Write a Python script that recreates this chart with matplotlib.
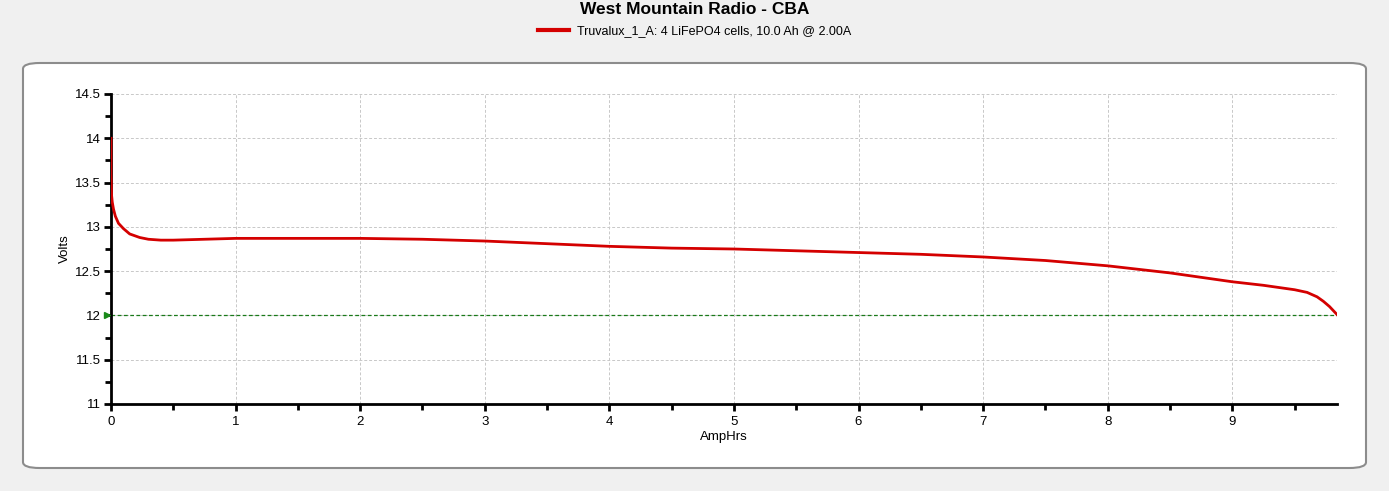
import matplotlib
matplotlib.use("Agg")
import matplotlib.pyplot as plt
from matplotlib.lines import Line2D
from matplotlib.patches import FancyBboxPatch
from matplotlib.ticker import MultipleLocator

plt.rcParams["font.family"] = ["Liberation Sans", "DejaVu Sans"]

# Discharge curve
amp_hrs = [0.0, 0.0, 0.005, 0.01, 0.02, 0.035, 0.06, 0.1, 0.15, 0.23, 0.3, 0.4,
           0.5, 0.75, 1.0, 1.5, 2.0, 2.5, 3.0, 3.5, 4.0, 4.5, 5.0, 5.5, 6.0,
           6.5, 7.0, 7.5, 8.0, 8.5, 9.0, 9.25, 9.5, 9.6, 9.68, 9.73, 9.78, 9.84]
volts = [14.0, 13.6, 13.35, 13.28, 13.2, 13.12, 13.04, 12.98, 12.92, 12.88, 12.86, 12.85,
         12.85, 12.86, 12.87, 12.87, 12.87, 12.86, 12.84, 12.81, 12.78, 12.76, 12.75, 12.73, 12.71,
         12.69, 12.66, 12.62, 12.56, 12.48, 12.38, 12.34, 12.29, 12.26, 12.21, 12.16, 12.1, 12.01]
cutoff = 12.0

series_label = "Truvalux_1_A: 4 LiFePO4 cells, 10.0 Ah @ 2.00A"

fig = plt.figure(figsize=(13.89, 4.91), dpi=100)
fig.patch.set_facecolor("#f0f0f0")

# rounded white panel behind the plot
panel = FancyBboxPatch((23 / 1389, 1 - 468 / 491), (1366 - 23) / 1389, (468 - 63) / 491,
                       boxstyle="round,pad=0,rounding_size=0.012",
                       transform=fig.transFigure, facecolor="white",
                       edgecolor="#8c8c8c", linewidth=1.5, zorder=-5)
fig.patches.append(panel)

ax = fig.add_axes([111 / 1389, 1 - 404 / 491, (1337 - 111) / 1389, (404 - 94) / 491])
ax.set_zorder(2)
ax.set_facecolor("white")

ax.plot(amp_hrs, volts, color="#d40000", linewidth=2, zorder=3, solid_joinstyle="round")
ax.axhline(cutoff, color="#1a7a1a", linestyle=(0, (3, 2)), linewidth=0.9, zorder=2)
ax.plot([-0.03], [cutoff], marker=">", color="#1a8a1a", markersize=5, clip_on=False, zorder=4)

ax.set_xlim(0, 9.84)
ax.set_ylim(11, 14.5)
ax.xaxis.set_major_locator(MultipleLocator(1))
ax.xaxis.set_minor_locator(MultipleLocator(0.5))
ax.yaxis.set_major_locator(MultipleLocator(0.5))
ax.yaxis.set_minor_locator(MultipleLocator(0.25))
ax.yaxis.set_major_formatter(plt.FuncFormatter(lambda v, p: f"{v:g}"))

ax.grid(True, which="major", color="#c8c8c8", linestyle=(0, (3, 2)), linewidth=0.7)
for side in ("top", "right"):
    ax.spines[side].set_visible(False)
for side in ("left", "bottom"):
    ax.spines[side].set_linewidth(2)
ax.tick_params(which="both", width=2, color="black", labelsize=9.5)
ax.tick_params(which="major", length=5)
ax.tick_params(which="minor", length=4)
ax.tick_params(axis="y", pad=2)

ax.set_xlabel("AmpHrs", fontsize=9.5, labelpad=2)
ax.set_ylabel("Volts", fontsize=9.5, labelpad=3)

fig.text(0.5, 1 - 9 / 491, "West Mountain Radio - CBA", ha="center", va="center",
         fontsize=12.5, fontweight="bold")
handle = Line2D([], [], color="#d40000", linewidth=3)
fig.legend(handles=[handle], labels=[series_label], loc="center",
           bbox_to_anchor=(0.5, 1 - 31 / 491), frameon=False, fontsize=9,
           handlelength=2.5, handletextpad=0.6)

fig.savefig("out.png", dpi=100, facecolor=fig.get_facecolor())
